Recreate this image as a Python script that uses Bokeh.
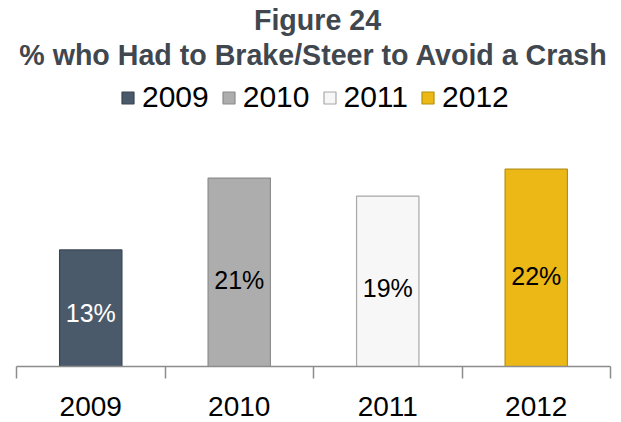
from bokeh.plotting import figure
from bokeh.models import (ColumnDataSource, Range1d, LinearAxis, FixedTicker,
                          Legend, LegendItem, Label)
from bokeh.core.properties import value
from bokeh.embed import file_html
from bokeh.resources import INLINE

# ---- data ----
years = ["2009", "2010", "2011", "2012"]
values = [13, 21, 19, 22]
colors = ["#4B5A6B", "#ADADAD", "#F7F7F7", "#EBB816"]
edge_colors = ["#3A4553", "#8C8C8C", "#A8A8A8", "#B8900C"]
text_colors = ["#FFFFFF", "#000000", "#000000", "#000000"]
title_line1 = "Figure 24"
title_line2 = "% who Had to Brake/Steer to Avoid a Crash"

FONT = "Liberation Sans"

xs = [i + 0.5 for i in range(len(years))]
src = ColumnDataSource(dict(
    x=xs, v=values, year=years, color=colors, edge=edge_colors,
    tc=text_colors,
    label=[f"{v}%" for v in values],
    ly=[v * 0.46 for v in values],
))

p = figure(width=621, height=422, output_backend="svg", toolbar_location=None,
           x_range=Range1d(0, len(years)), y_range=Range1d(0, 40.8),
           x_axis_type=None, y_axis_type=None,
           min_border_left=16, min_border_right=11,
           min_border_top=0, min_border_bottom=56)
p.outline_line_color = None
p.xgrid.visible = False
p.ygrid.visible = False
p.background_fill_color = "white"
p.border_fill_color = "white"

r = p.vbar(x="x", top="v", width=0.42, bottom=0, source=src,
           fill_color="color", line_color="edge", line_width=1.2)

p.text(x="x", y="ly", text="label", source=src, text_color="tc",
       text_align="center", text_baseline="middle",
       text_font=value(FONT), text_font_size="25px")

ax = LinearAxis(ticker=FixedTicker(ticks=xs, minor_ticks=list(range(len(years) + 1))),
                major_label_overrides={x: y for x, y in zip(xs, years)})
ax.axis_line_color = "#8C8C8C"
ax.axis_line_width = 1.5
ax.major_tick_out = 0
ax.major_tick_in = 0
ax.minor_tick_out = 12
ax.minor_tick_in = 0
ax.minor_tick_line_color = "#8C8C8C"
ax.minor_tick_line_width = 1.5
ax.major_label_standoff = 18
ax.major_label_text_font = FONT
ax.major_label_text_font_size = "28px"
ax.major_label_text_color = "#000000"
p.add_layout(ax, "below")

# legend
items = [LegendItem(label=y, renderers=[r], index=i) for i, y in enumerate(years)]
leg = Legend(items=items, orientation="horizontal", location=(104, 252),
             glyph_width=15, glyph_height=15, label_standoff=7, spacing=12,
             padding=0, margin=0, border_line_color=None,
             background_fill_alpha=0,
             label_text_font=FONT, label_text_font_size="30px",
             label_text_color="#000000")
p.add_layout(leg, "center")

# titles
for txt, xx, yy in [(title_line1, 301, 347), (title_line2, 297, 312)]:
    p.add_layout(Label(x=xx, y=yy, x_units="screen", y_units="screen",
                       text=txt, text_align="center", text_baseline="middle",
                       text_font=FONT, text_font_size="28.6px",
                       text_font_style="bold", text_color="#41474F"))

open("out.html", "w").write(file_html(p, INLINE))
